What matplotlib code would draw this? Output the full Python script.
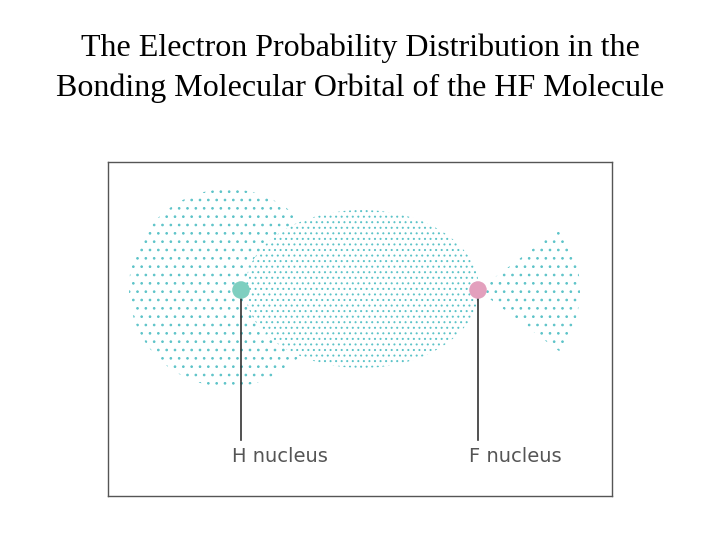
import matplotlib.pyplot as plt
from matplotlib.patches import Circle, Ellipse, Wedge

plt.rcParams['hatch.linewidth'] = 0.7

title_lines = ["The Electron Probability Distribution in the",
               "Bonding Molecular Orbital of the HF Molecule"]
nuclei = ["H nucleus", "F nucleus"]
nucleus_x = [241, 478]
nucleus_colors = ["#7fcfc0", "#e3a0bd"]
dot_color = "#5cc3c8"

fig = plt.figure(figsize=(7.2, 5.4), dpi=100)
fig.text(0.5, 0.911, title_lines[0], ha='center', va='center',
         fontsize=23, family='Liberation Serif')
fig.text(0.5, 0.837, title_lines[1], ha='center', va='center',
         fontsize=23, family='Liberation Serif')

ax = fig.add_axes([108 / 720, 44 / 540, 504 / 720, 334 / 540])
ax.set_xlim(108, 612)
ax.set_ylim(496, 162)
ax.set_xticks([])
ax.set_yticks([])
for s in ax.spines.values():
    s.set_color('#555555')
    s.set_linewidth(1)

# stippled clouds drawn as dot hatches
ax.add_patch(Circle((228, 288), 99, facecolor='white', edgecolor=dot_color,
                    linewidth=0, hatch='..'))
ax.add_patch(Ellipse((362, 289), 234, 158, facecolor='white', edgecolor=dot_color,
                     linewidth=0, hatch='...'))
ax.add_patch(Wedge((478, 290), 102, -37, 37, facecolor='white', edgecolor=dot_color,
                   linewidth=0, hatch='..'))

for name, x, c in zip(nuclei, nucleus_x, nucleus_colors):
    ax.plot([x, x], [290, 440], color='#333333', linewidth=1.2, zorder=3)
    ax.scatter([x], [290], s=160, color=c, zorder=4, edgecolors='none')
    ax.text(x - 9, 457, name, ha='left', va='center', fontsize=14,
            color='#555555', family='DejaVu Sans')

fig.savefig('out.png', dpi=100)
